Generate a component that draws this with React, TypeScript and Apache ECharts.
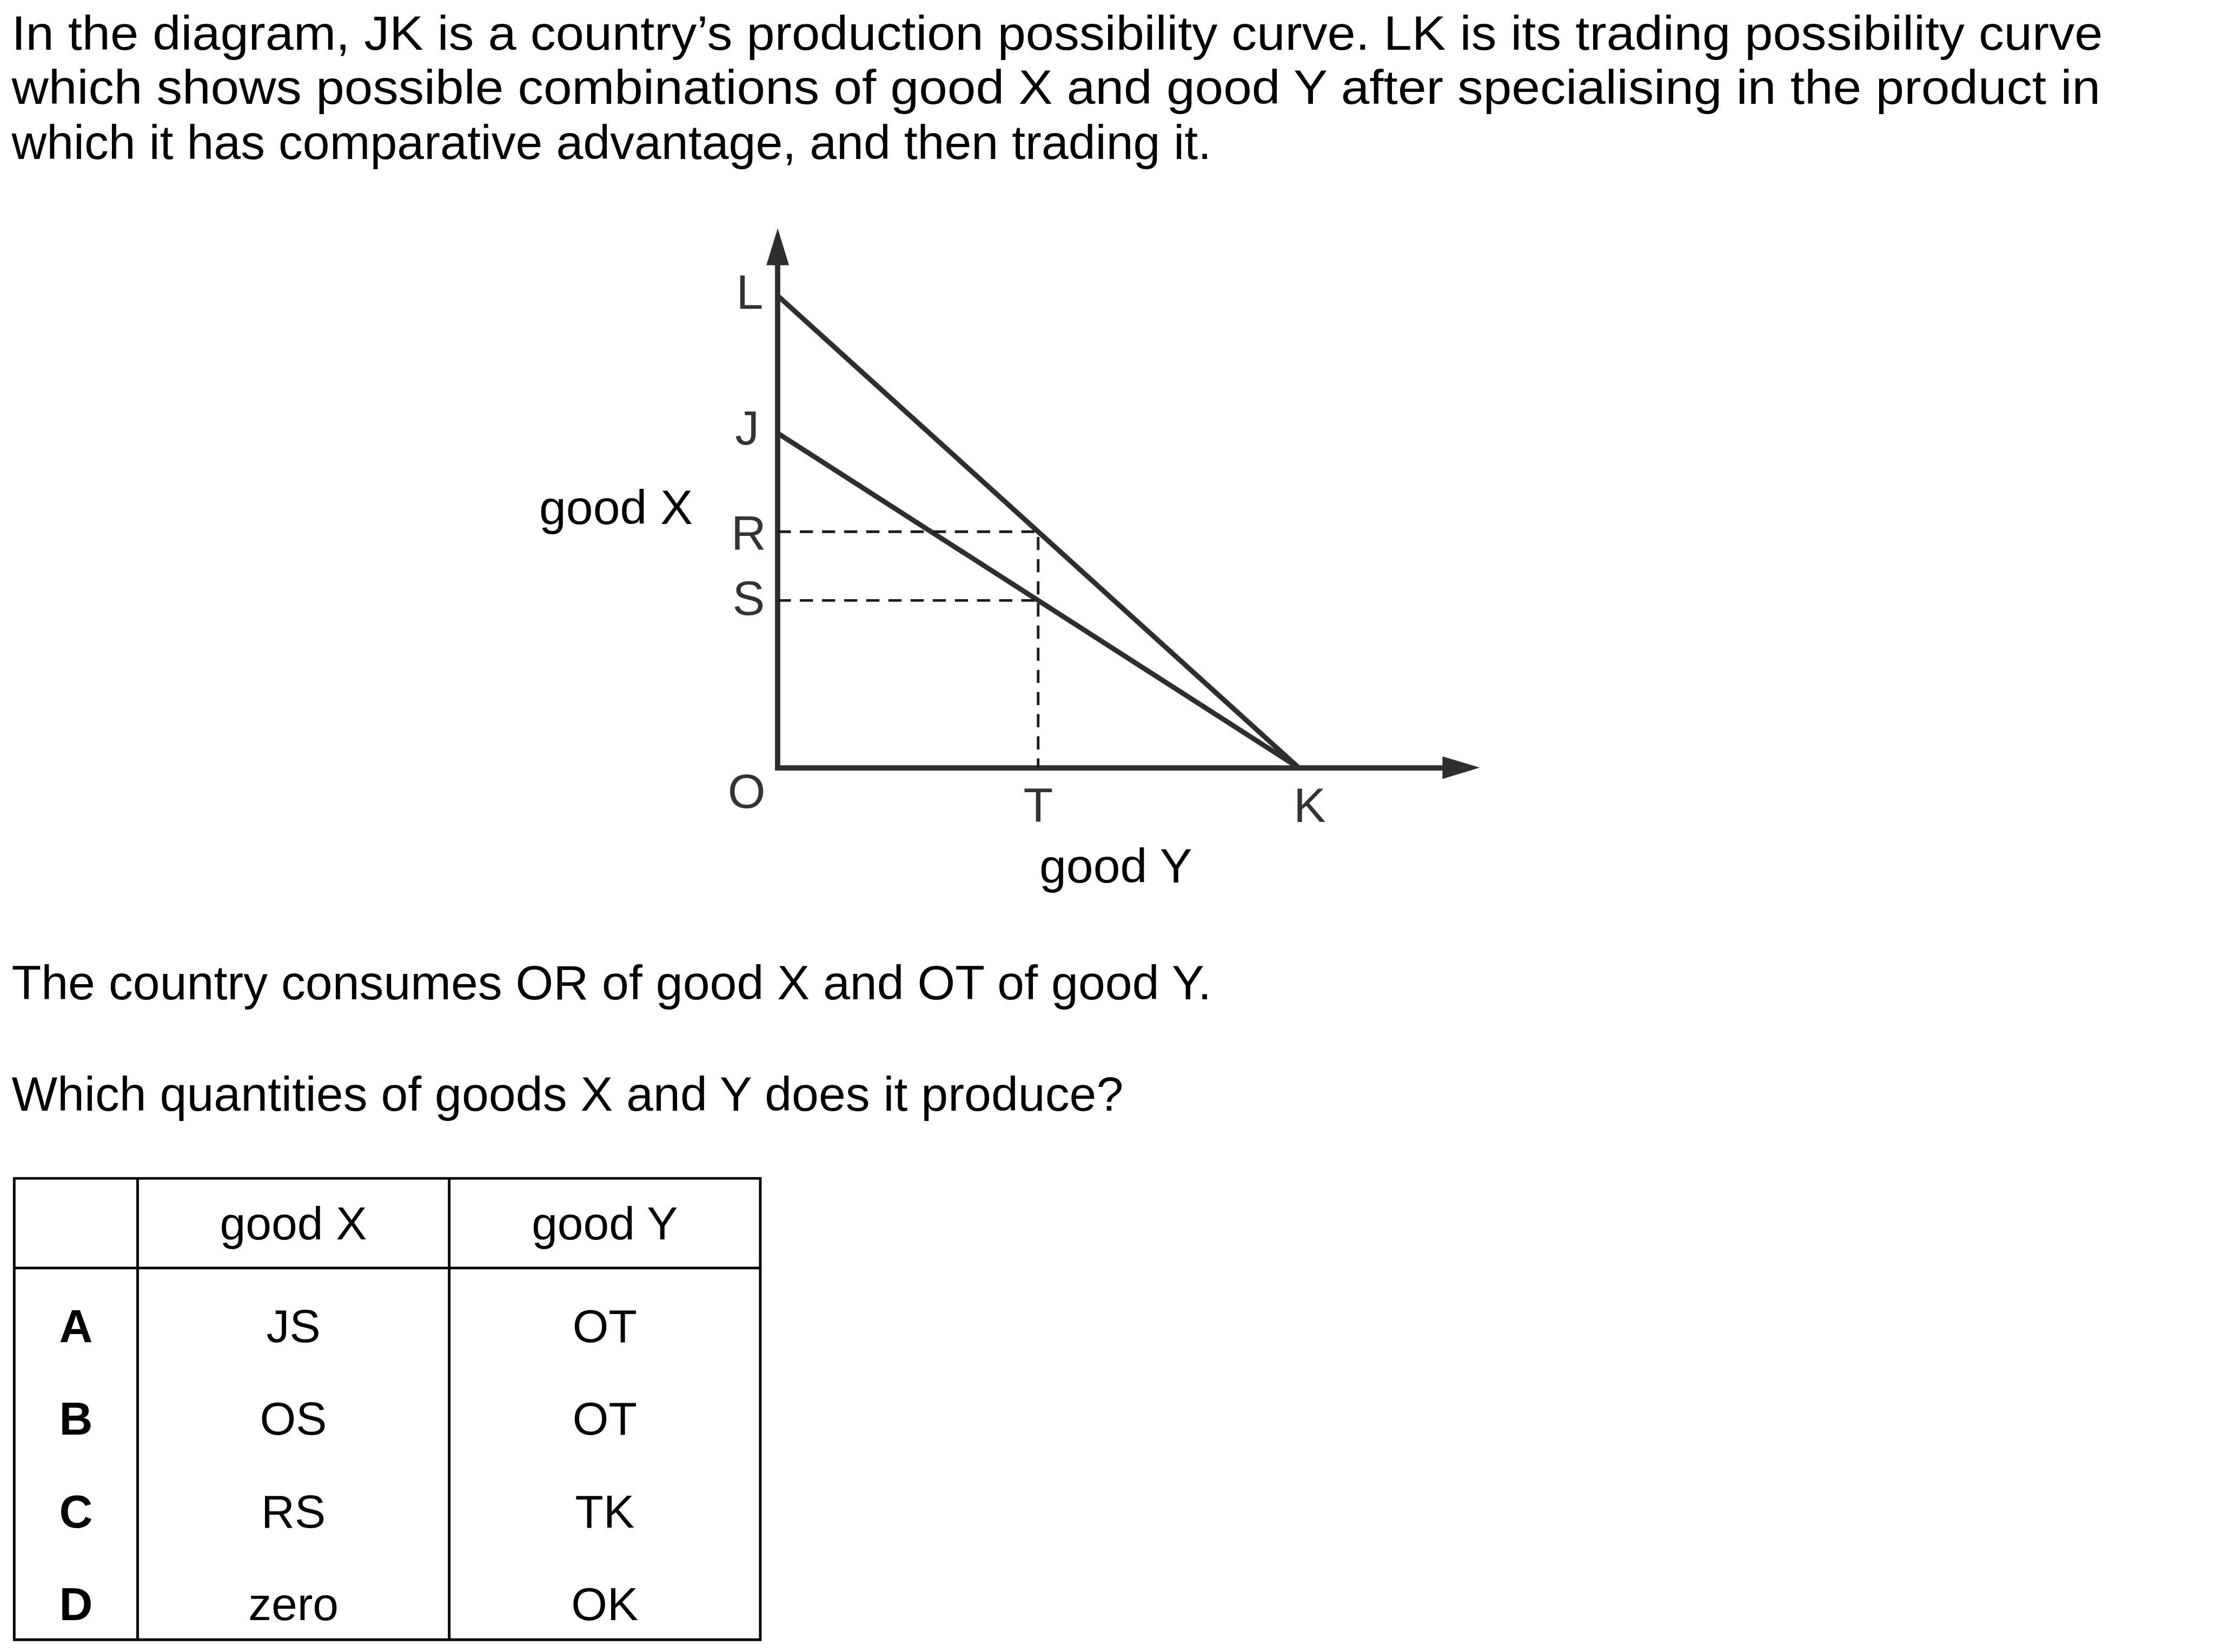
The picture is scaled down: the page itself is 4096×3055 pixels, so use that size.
import React, { useEffect, useRef } from 'react';
import * as echarts from 'echarts';

// ---------- data ----------
const pointL = 9.06;
const pointJ = 6.42;
const pointK = 10;
const pointT = 5;
const pointR = 4.53;
const pointS = 3.21;
const xAxisMax = 13.12;
const yAxisMax = 10;

const tradingCurveLK = [[0, pointL], [pointK, 0]];
const productionCurveJK = [[0, pointJ], [pointK, 0]];
const dashedRT = [[0, pointR], [pointT, pointR], [pointT, 0]];
const dashedS = [[0, pointS], [pointT, pointS]];

const pointLabels = ['L', 'J', 'R', 'S', 'O', 'T', 'K'];
const pointCoords = [[0, pointL], [0, pointJ], [0, pointR], [0, pointS], [0, 0], [pointT, 0], [pointK, 0]];

const introLines = [
  'In the diagram, JK is a country\u2019s production possibility curve. LK is its trading possibility curve',
  'which shows possible combinations of good X and good Y after specialising in the product in',
  'which it has comparative advantage, and then trading it.',
];
const questionLines = [
  'The country consumes OR of good X and OT of good Y.',
  'Which quantities of goods X and Y does it produce?',
];
const tableHeader = ['', 'good X', 'good Y'];
const optionLetters = ['A', 'B', 'C', 'D'];
const goodXAnswers = ['JS', 'OS', 'RS', 'zero'];
const goodYAnswers = ['OT', 'OT', 'TK', 'OK'];

// ---------- layout (reference px, scaled by S) ----------
const S = 0.975;
const FONT = '"Liberation Sans", Arial, Helvetica, sans-serif';
const originX = 1475;
const originY = 1456;
const unit = 98.8;
const labelOffsets: Record<string, number[]> = {
  L: [-53, -7], J: [-58, -10], R: [-55, 2], S: [-55, -5], O: [-59, 44], T: [0, 71], K: [21, 71],
};
const lineColor = '#2e2e2e';

function measure(text: string, size: number, weight = 'normal') {
  const c = document.createElement('canvas').getContext('2d');
  if (!c) return 0;
  c.font = `${weight} ${size}px ${FONT}`;
  return c.measureText(text).width;
}

export default function App() {
  const ref = useRef<HTMLDivElement>(null);
  useEffect(() => {
    document.body.style.margin = '0';
    if (!ref.current) return;
    const chart = echarts.init(ref.current, undefined, { renderer: 'svg' });

    const bodySize = 92 * S;
    const tableSize = 88 * S;
    const graphics: any[] = [];

    // intro paragraph (first two lines justified)
    const textLeft = 22 * S;
    const justifyW = (3988 - 22) * S;
    const introCenters = [62, 166, 270];
    introLines.forEach((t, i) => {
      let sx = 1;
      if (i < 2) {
        const w = measure(t, bodySize);
        if (w > 0) sx = Math.min(1.1, Math.max(0.9, justifyW / w));
      }
      graphics.push({
        type: 'text', x: textLeft, y: introCenters[i] * S, scaleX: sx,
        style: { text: t, fontSize: bodySize, fontFamily: FONT, fill: '#000', align: 'left', verticalAlign: 'middle' },
      });
    });
    const questionCenters = [1864, 2075];
    questionLines.forEach((t, i) => {
      graphics.push({
        type: 'text', x: textLeft, y: questionCenters[i] * S,
        style: { text: t, fontSize: bodySize, fontFamily: FONT, fill: '#000', align: 'left', verticalAlign: 'middle' },
      });
    });

    // table
    const tL = 27 * S, tR = 1442 * S, tT = 2235 * S, tB = 3110 * S, tH = 2405 * S;
    const cols = [27 * S, 261 * S, 852 * S, 1442 * S];
    const lw = 5 * S;
    graphics.push({ type: 'rect', shape: { x: tL, y: tT, width: tR - tL, height: tB - tT }, style: { fill: 'none', stroke: '#000', lineWidth: lw } });
    [cols[1], cols[2]].forEach((cx) => {
      graphics.push({ type: 'line', shape: { x1: cx, y1: tT, x2: cx, y2: tB }, style: { stroke: '#000', lineWidth: lw } });
    });
    graphics.push({ type: 'line', shape: { x1: tL, y1: tH, x2: tR, y2: tH }, style: { stroke: '#000', lineWidth: lw } });
    const colCenter = (c: number) => (cols[c] + cols[c + 1]) / 2;
    tableHeader.forEach((h, c) => {
      if (!h) return;
      graphics.push({
        type: 'text', x: colCenter(c), y: 2320 * S,
        style: { text: h, fontSize: tableSize, fontFamily: FONT, fill: '#000', align: 'center', verticalAlign: 'middle' },
      });
    });
    const rowY0 = 2515, rowStep = 175.7;
    optionLetters.forEach((letter, r) => {
      const y = (rowY0 + r * rowStep) * S;
      const cells = [letter, goodXAnswers[r], goodYAnswers[r]];
      cells.forEach((txt, c) => {
        graphics.push({
          type: 'text', x: colCenter(c), y,
          style: {
            text: txt, fontSize: tableSize, fontFamily: FONT, fontWeight: c === 0 ? 'bold' : 'normal',
            fill: '#000', align: 'center', verticalAlign: 'middle',
          },
        });
      });
    });

    const gLeft = originX * S;
    const gWidth = xAxisMax * unit * S;
    const gHeight = yAxisMax * unit * S;
    const gTop = originY * S - gHeight;

    const axisLine = (sym: number[]) => ({
      show: true,
      symbol: ['none', 'triangle'],
      symbolSize: sym,
      lineStyle: { color: lineColor, width: 10 * S, cap: 'square' },
    });

    const option: any = {
      animation: false,
      backgroundColor: '#fff',
      grid: { left: gLeft, top: gTop, width: gWidth, height: gHeight, containLabel: false, outerBoundsMode: 'none' },
      xAxis: {
        type: 'value', min: 0, max: xAxisMax,
        axisLine: axisLine([43 * S, 71 * S]),
        axisTick: { show: false }, axisLabel: { show: false }, splitLine: { show: false },
        name: 'good Y', nameLocation: 'middle', nameGap: 186 * S,
        nameTextStyle: { fontSize: bodySize, fontFamily: FONT, color: '#000', align: 'center', verticalAlign: 'middle', padding: [0, 14 * S, 0, 0] },
      },
      yAxis: {
        type: 'value', min: 0, max: yAxisMax,
        axisLine: axisLine([43 * S, 70 * S]),
        axisTick: { show: false }, axisLabel: { show: false }, splitLine: { show: false },
        name: 'good X', nameLocation: 'middle', nameGap: 161 * S, nameRotate: 0,
        nameTextStyle: { fontSize: bodySize, fontFamily: FONT, color: '#000', align: 'right', verticalAlign: 'middle', padding: [20 * S, 0, 0, 0] },
      },
      series: [
        {
          name: 'LK', type: 'line', data: tradingCurveLK, symbol: 'none', silent: true,
          lineStyle: { color: lineColor, width: 9.5 * S },
        },
        {
          name: 'JK', type: 'line', data: productionCurveJK, symbol: 'none', silent: true,
          lineStyle: { color: lineColor, width: 9.5 * S },
        },
        {
          name: 'R-T', type: 'line', data: dashedRT, symbol: 'none', silent: true,
          lineStyle: { color: '#1a1a1a', width: 5 * S, type: [25 * S, 17 * S] },
        },
        {
          name: 'S', type: 'line', data: dashedS, symbol: 'none', silent: true,
          lineStyle: { color: '#1a1a1a', width: 5 * S, type: [25 * S, 17 * S] },
        },
        {
          name: 'points', type: 'scatter', silent: true, symbolSize: 1,
          itemStyle: { color: 'rgba(0,0,0,0)' },
          data: pointLabels.map((n, i) => ({
            name: n, value: pointCoords[i],
            label: {
              show: true, position: 'inside', formatter: n,
              offset: [labelOffsets[n][0] * S, labelOffsets[n][1] * S],
              fontSize: bodySize, fontFamily: FONT, color: '#000', align: 'center', verticalAlign: 'middle',
            },
          })),
        },
      ],
      graphic: graphics,
    };
    chart.setOption(option);
    return () => chart.dispose();
  }, []);
  return <div ref={ref} style={{ width: 4096, height: 3055 }} />;
}
